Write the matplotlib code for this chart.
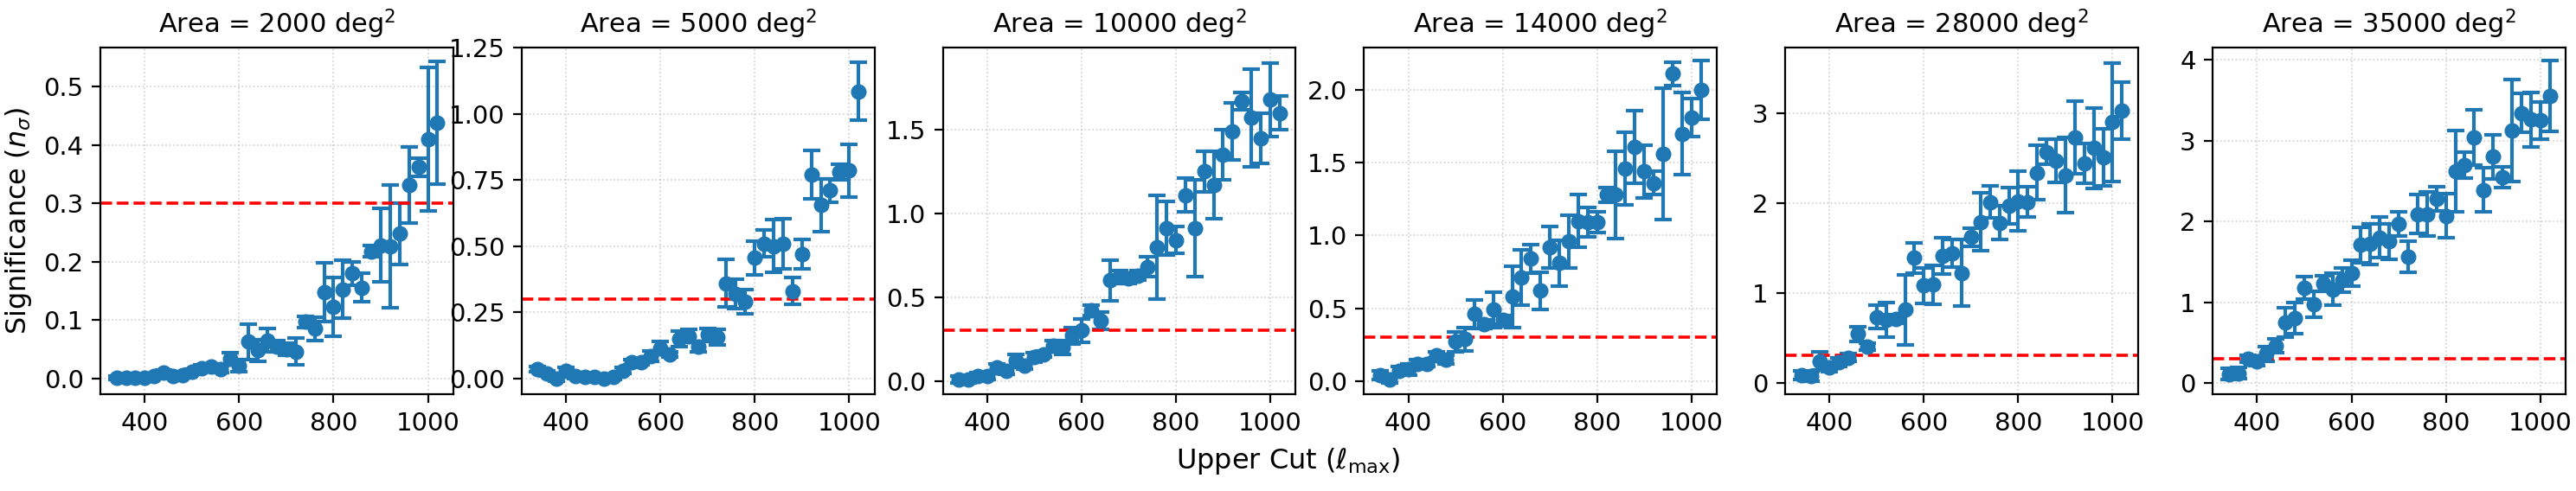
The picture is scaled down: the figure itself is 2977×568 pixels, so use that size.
import numpy as np
import matplotlib
matplotlib.use("Agg")
import matplotlib.pyplot as plt

ell = list(range(340, 1021, 20))
areas = [2000, 5000, 10000, 14000, 28000, 35000]

sig_2000 = [0.001,0.001,0.002,0.001,0.005,0.01,0.005,0.006,0.012,0.018,0.02,0.016,0.034,0.022,0.063,0.048,0.065,0.055,0.05,0.046,0.097,0.085,0.148,0.123,0.153,0.18,0.156,0.218,0.228,0.226,0.248,0.332,0.362,0.41,0.438]
err_2000 = [0.003,0.003,0.003,0.003,0.003,0.004,0.004,0.004,0.004,0.005,0.005,0.006,0.01,0.01,0.03,0.018,0.02,0.01,0.01,0.023,0.01,0.02,0.05,0.05,0.05,0.02,0.025,0.01,0.063,0.105,0.053,0.065,0.015,0.123,0.105]
sig_5000 = [0.035,0.02,0.0,0.03,0.01,0.005,0.005,0.0,0.005,0.03,0.06,0.06,0.085,0.115,0.09,0.15,0.16,0.12,0.165,0.155,0.36,0.32,0.29,0.455,0.51,0.5,0.51,0.33,0.47,0.77,0.655,0.71,0.78,0.785,1.085]
err_5000 = [0.01,0.01,0.01,0.01,0.01,0.01,0.01,0.01,0.01,0.01,0.01,0.01,0.02,0.025,0.01,0.03,0.025,0.02,0.025,0.03,0.09,0.055,0.045,0.065,0.05,0.1,0.095,0.05,0.055,0.09,0.1,0.045,0.03,0.1,0.11]
sig_10000 = [0.01,0.01,0.03,0.03,0.08,0.06,0.12,0.09,0.14,0.16,0.21,0.2,0.27,0.3,0.42,0.36,0.6,0.62,0.61,0.63,0.68,0.8,0.91,0.84,1.11,0.91,1.25,1.17,1.35,1.49,1.67,1.57,1.45,1.68,1.6]
err_10000 = [0.02,0.02,0.02,0.02,0.02,0.02,0.04,0.02,0.03,0.02,0.03,0.04,0.05,0.07,0.03,0.05,0.12,0.04,0.03,0.03,0.06,0.31,0.16,0.08,0.1,0.29,0.12,0.2,0.15,0.17,0.05,0.29,0.15,0.22,0.1]
sig_14000 = [0.04,0.01,0.07,0.08,0.12,0.12,0.18,0.15,0.27,0.29,0.46,0.39,0.49,0.42,0.58,0.71,0.84,0.62,0.92,0.81,0.96,1.1,1.09,1.09,1.28,1.28,1.46,1.61,1.44,1.36,1.56,2.11,1.7,1.81,2.0]
err_14000 = [0.03,0.02,0.03,0.04,0.03,0.02,0.02,0.03,0.07,0.08,0.1,0.03,0.12,0.03,0.21,0.19,0.1,0.13,0.14,0.16,0.18,0.18,0.1,0.07,0.05,0.3,0.25,0.25,0.18,0.08,0.45,0.08,0.28,0.13,0.2]
sig_28000 = [0.08,0.07,0.24,0.17,0.23,0.28,0.54,0.4,0.73,0.7,0.71,0.81,1.39,1.08,1.09,1.41,1.44,1.22,1.62,1.79,2.01,1.78,1.97,2.02,2.01,2.34,2.57,2.47,2.31,2.73,2.44,2.61,2.51,2.9,3.03]
err_28000 = [0.05,0.05,0.1,0.05,0.05,0.04,0.08,0.04,0.13,0.19,0.05,0.39,0.17,0.2,0.22,0.2,0.15,0.37,0.1,0.32,0.18,0.19,0.2,0.33,0.17,0.3,0.14,0.24,0.42,0.4,0.22,0.45,0.32,0.66,0.32]
sig_35000 = [0.11,0.12,0.3,0.27,0.36,0.46,0.75,0.8,1.18,0.97,1.23,1.16,1.27,1.36,1.71,1.72,1.8,1.75,1.97,1.56,2.09,2.09,2.28,2.07,2.62,2.7,3.04,2.39,2.8,2.55,3.12,3.34,3.26,3.25,3.55]
err_35000 = [0.07,0.07,0.04,0.06,0.09,0.09,0.18,0.19,0.14,0.16,0.1,0.2,0.15,0.16,0.22,0.25,0.25,0.22,0.15,0.19,0.24,0.27,0.15,0.27,0.5,0.16,0.34,0.27,0.27,0.13,0.63,0.24,0.34,0.23,0.44]

sigs = [sig_2000, sig_5000, sig_10000, sig_14000, sig_28000, sig_35000]
errs = [err_2000, err_5000, err_10000, err_14000, err_28000, err_35000]
ylims = [(-0.027, 0.567), (-0.06, 1.25), (-0.08, 1.99), (-0.09, 2.29), (-0.13, 3.73), (-0.14, 4.15)]
yticks = [[0,0.1,0.2,0.3,0.4,0.5],[0,0.25,0.5,0.75,1.0,1.25],[0,0.5,1.0,1.5],[0,0.5,1.0,1.5,2.0],[0,1,2,3],[0,1,2,3,4]]
yfmt = ["%.1f", "%.2f", "%.1f", "%.1f", "%d", "%d"]

fig = plt.figure(figsize=(14.885, 2.84), dpi=200)
lefts = [0.039, 0.2025, 0.366, 0.5295, 0.693, 0.859]
w = 0.137
for i in range(6):
    ax = fig.add_axes([lefts[i], 0.197, w, 0.706])
    ax.errorbar(ell, sigs[i], yerr=errs[i], fmt='o', color='#1f77b4', ms=5.5, capsize=3.5, elinewidth=1.5, capthick=1.5)
    ax.axhline(0.3, color='red', ls='--', lw=1.3)
    ax.set_ylim(*ylims[i])
    ax.set_xlim(306, 1054)
    ax.set_xticks([400, 600, 800, 1000])
    ax.set_yticks(yticks[i])
    ax.yaxis.set_major_formatter(matplotlib.ticker.FormatStrFormatter(yfmt[i]))
    ax.grid(True, ls=':', lw=0.6, alpha=0.6)
    ax.tick_params(labelsize=10.5)
    ax.set_title(f"Area = {areas[i]} deg$^2$", fontsize=11)
    if i == 0:
        ax.set_ylabel(r"Significance ($n_\sigma$)", fontsize=11.5)
fig.text(0.5, 0.045, r"Upper Cut ($\ell_{\max}$)", fontsize=11.5, ha='center')
fig.savefig("out.png", dpi=200)
